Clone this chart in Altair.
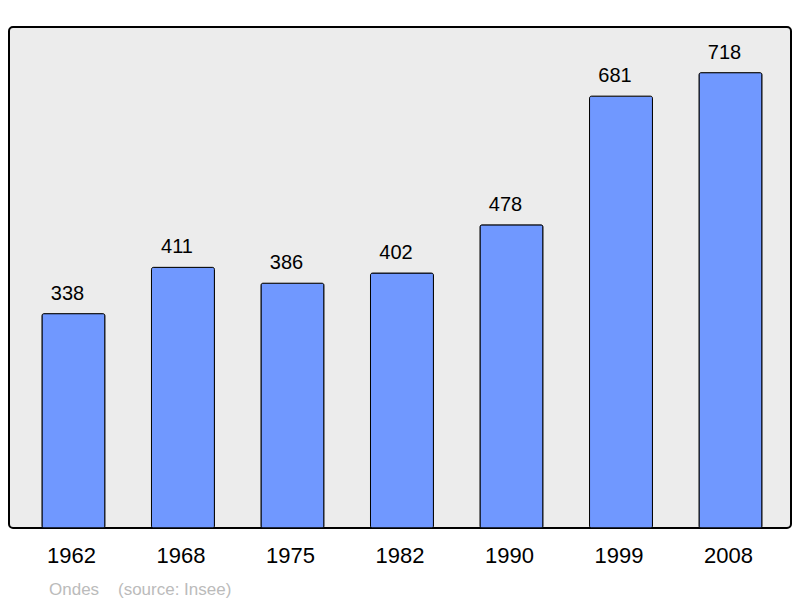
import altair as alt
import pandas as pd

years = ["1962", "1968", "1975", "1982", "1990", "1999", "2008"]
population = [338, 411, 386, 402, 478, 681, 718]

df = pd.DataFrame({"year": years, "pop": population})

x = alt.X("year:N", sort=years, title=None,
          scale=alt.Scale(paddingInner=0.425, paddingOuter=0.283, align=0.532),
          axis=alt.Axis(labelAngle=0, labelFontSize=22, labelFont="Liberation Sans",
                        labelColor="#000000", domain=False, ticks=False, labelPadding=17,
                        labelOffset=-2))
y = alt.Y("pop:Q", scale=alt.Scale(domain=[0, 790], nice=False, zero=True), axis=None)

bars = alt.Chart(df).mark_bar(fill="#7098ff", stroke="#000000", strokeWidth=1,
                              cornerRadius=2).encode(x=x, y=y)

labels = alt.Chart(df).mark_text(font="Liberation Sans", fontSize=20, color="#000000",
                                 baseline="alphabetic", dy=-14, dx=-6).encode(
    x=x, y=y, text="pop:Q")

chart = (bars + labels).properties(
    width=782, height=501,
    autosize=alt.AutoSizeParams(type="none"),
    padding={"left": 1, "top": 19, "right": 1, "bottom": 70},
    title=alt.TitleParams("Ondes\u00a0\u00a0\u00a0\u00a0(source: Insee)", orient="bottom",
                          anchor="start", dx=40, offset=16, fontSize=17, fontWeight="normal",
                          font="Liberation Sans", color="#bbbbbb"),
).configure(
    background="#ffffff",
    view=alt.ViewConfig(stroke="#000000", strokeWidth=2, cornerRadius=4, fill="#ececec"),
)

chart.save("out.html", embed_options={"renderer": "svg", "actions": False})
